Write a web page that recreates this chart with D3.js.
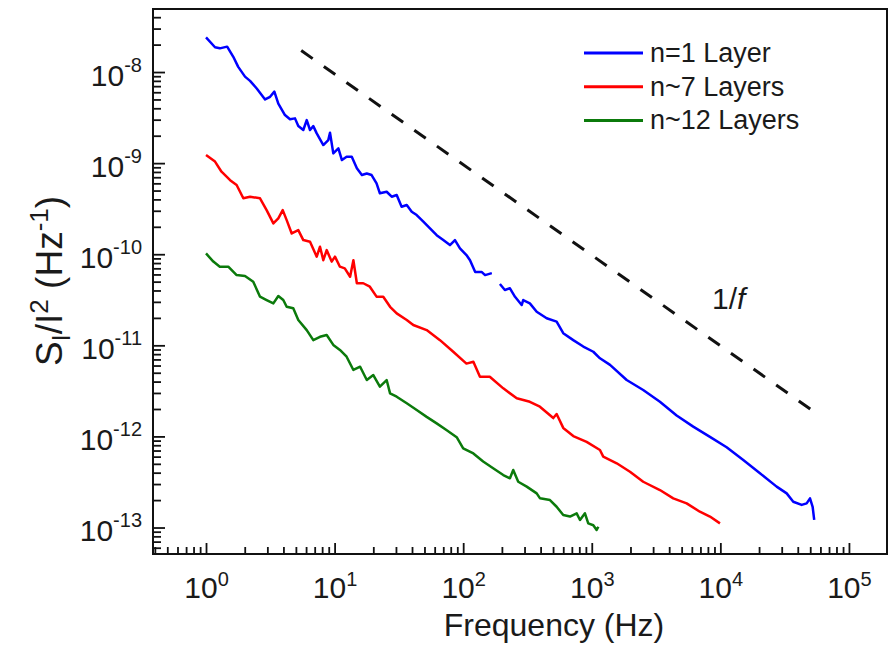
<!DOCTYPE html>
<html>
<head>
<meta charset="utf-8">
<script src="https://cdn.jsdelivr.net/npm/d3@7"></script>
<style>
  html, body { margin: 0; padding: 0; background: #fff; }
  svg { display: block; font-family: Arial, "Liberation Sans", sans-serif; }
</style>
</head>
<body>
<svg id="chart" width="890" height="648"></svg>
<script>
// noise spectra S_I/I^2 vs frequency as [f (Hz), S (1/Hz)]

// n=1 layer, first part (below ~170 Hz)
const n1Low = [
  [1.00,2.40e-8],[1.175,1.87e-8],[1.28,1.82e-8],[1.46,1.90e-8],[1.63,1.47e-8],[1.78,1.14e-8],
  [2.01,8.9e-9],[2.20,8.0e-9],[2.48,6.6e-9],[2.88,5.0e-9],[3.15,5.35e-9],[3.40,6.1e-9],
  [3.65,4.5e-9],[4.11,3.37e-9],[4.50,3.03e-9],[4.92,3.10e-9],[5.22,2.55e-9],[5.71,2.31e-9],
  [6.07,2.97e-9],[6.44,2.31e-9],[6.83,2.55e-9],[7.26,2.12e-9],[8.17,1.58e-9],[8.93,1.79e-9],
  [9.21,2.16e-9],[9.77,1.28e-9],[10.7,1.45e-9],[11.4,1.08e-9],[12.4,1.175e-9],[13.6,1.175e-9],
  [14.9,8.8e-10],[16.3,7.4e-10],[17.8,7.7e-10],[19.4,7.4e-10],[21.2,6.0e-10],[22.5,4.66e-10],
  [25.4,4.85e-10],[27.8,4.28e-10],[30.4,4.47e-10],[33.2,3.32e-10],[36.4,3.47e-10],[39.8,2.93e-10],
  [43.5,2.69e-10],[49.0,2.28e-10],[55.2,1.92e-10],[62.2,1.62e-10],[70.0,1.43e-10],[78.9,1.26e-10],
  [86.3,1.43e-10],[94.4,1.16e-10],[106,9.8e-11],[113,8.6e-11],[124,6.4e-11],[139,6.4e-11],
  [148,5.9e-11],[167,6.2e-11]
];
// n=1 layer, second part (after the gap)
const n1High = [
  [193,4.71e-11],[211,4.05e-11],[231,4.23e-11],[253,3.41e-11],[285,2.77e-11],[293,3.14e-11],
  [330,2.89e-11],[373,2.34e-11],[446,1.98e-11],[533,1.82e-11],[600,1.36e-11],[718,1.14e-11],
  [859,9.7e-12],[1028,8.5e-12],[1158,7.2e-12],[1387,6.1e-12],[1868,4.16e-12],[2512,3.23e-12],
  [3388,2.40e-12],[4571,1.70e-12],[6152,1.28e-12],[8299,9.9e-13],[11190,7.6e-13],[15070,5.5e-13],
  [20320,3.94e-13],[27400,2.81e-13],[32800,2.37e-13],[36900,1.92e-13],[42900,1.77e-13],
  [46900,1.84e-13],[49800,2.09e-13],[52200,1.69e-13],[53700,1.21e-13]
];
// n~7 layers
const n7 = [
  [1.00,1.23e-9],[1.175,1.04e-9],[1.32,8.05e-10],[1.54,6.5e-10],[1.73,5.75e-10],[1.95,4.11e-10],
  [2.20,4.28e-10],[2.63,4.11e-10],[2.96,3.05e-10],[3.34,2.18e-10],[3.65,2.48e-10],[3.95,3.05e-10],
  [4.24,2.37e-10],[4.64,1.69e-10],[5.22,1.84e-10],[5.71,1.43e-10],[6.44,1.37e-10],[7.26,9.4e-11],
  [7.70,1.21e-10],[8.17,8.6e-11],[8.68,1.11e-10],[9.49,8.3e-11],[10.07,9.4e-11],[11.0,7.3e-11],
  [12.0,7.0e-11],[13.2,5.66e-11],[14.0,8.6e-11],[14.9,4.8e-11],[16.7,4.8e-11],[18.8,4.4e-11],
  [21.2,3.42e-11],[23.9,3.42e-11],[27.0,2.65e-11],[30.4,2.24e-11],[36.4,1.90e-11],[40.9,1.67e-11],
  [52.0,1.47e-11],[66.0,1.14e-11],[83.7,8.5e-12],[106,6.3e-12],[120,6.6e-12],[135,4.52e-12],
  [161,4.52e-12],[205,3.37e-12],[261,2.62e-12],[330,2.40e-12],[395,2.12e-12],[502,1.59e-12],
  [533,1.76e-12],[600,1.24e-12],[718,1.01e-12],[912,8.7e-13],[1158,7.1e-13],[1228,6.0e-13],
  [1563,5.07e-13],[1982,4.1e-13],[2512,3.18e-13],[3388,2.58e-13],[4303,2.09e-13],[5470,1.84e-13],
  [6930,1.49e-13],[8300,1.32e-13],[9930,1.11e-13]
];
// n~12 layers
const n12 = [
  [1.00,1.02e-10],[1.14,8.3e-11],[1.28,7.3e-11],[1.49,7.3e-11],[1.73,5.9e-11],[2.01,5.77e-11],
  [2.33,4.99e-11],[2.63,3.42e-11],[2.96,3.14e-11],[3.34,2.89e-11],[3.65,3.48e-11],[3.99,3.14e-11],
  [4.24,2.65e-11],[4.77,2.55e-11],[5.22,1.90e-11],[6.07,1.47e-11],[6.83,1.14e-11],[7.70,1.24e-11],
  [8.68,1.30e-11],[9.77,1.01e-11],[11.0,8.9e-12],[12.4,7.5e-12],[14.0,5.36e-12],[15.8,5.82e-12],
  [17.8,4.16e-12],[20.0,4.72e-12],[22.5,3.52e-12],[25.4,4.16e-12],[27.0,2.97e-12],[30.4,2.73e-12],
  [36.4,2.31e-12],[43.5,1.95e-12],[52.0,1.64e-12],[62.2,1.39e-12],[74.5,1.17e-12],[89.0,9.8e-13],
  [100,7.4e-13],[120,6.5e-13],[143,5.3e-13],[171,4.47e-13],[205,3.77e-13],[231,3.47e-13],
  [245,4.28e-13],[268,3.18e-13],[312,2.81e-13],[373,2.37e-13],[396,2.09e-13],[473,2.00e-13],
  [533,1.69e-13],[600,1.37e-13],[677,1.32e-13],[763,1.43e-13],[810,1.21e-13],[885,1.43e-13],
  [939,1.11e-13],[1028,1.06e-13],[1091,9.4e-14],[1125,1.02e-13]
];
// 1/f guide line end points
const guide = [[5.5,1.72e-8],[5.0e4,2.0e-12]];

const legendNames = ["n=1 Layer", "n~7 Layers", "n~12 Layers"];
const seriesColors = ["#0000ff", "#ff0000", "#0b7a0b"];

const xDomain = [0.387, 1.977e5];
const yDomain = [5.12e-14, 4.92e-8];

const plot = {left: 153, top: 9, right: 887, bottom: 554};

const svg = d3.select('#chart');
const x = d3.scaleLog().domain(xDomain).range([plot.left, plot.right]);
const y = d3.scaleLog().domain(yDomain).range([plot.bottom, plot.top]);

const isMajor = v => Math.abs(Math.log10(v) - Math.round(Math.log10(v))) < 1e-9;
const xTicks = x.ticks();
const yTicks = y.ticks();

// minor ticks (inward)
svg.append('g')
  .attr('transform', `translate(0,${plot.bottom})`)
  .call(d3.axisBottom(x).tickValues(xTicks.filter(v => !isMajor(v))).tickSize(-7).tickSizeOuter(0).tickFormat(''))
  .call(g => g.select('.domain').remove());
svg.append('g')
  .attr('transform', `translate(${plot.left},0)`)
  .call(d3.axisLeft(y).tickValues(yTicks.filter(v => !isMajor(v))).tickSize(-8).tickSizeOuter(0).tickFormat(''))
  .call(g => g.select('.domain').remove());

// major ticks with 10^n labels
const xAxis = svg.append('g')
  .attr('transform', `translate(0,${plot.bottom})`)
  .call(d3.axisBottom(x).tickValues(xTicks.filter(isMajor)).tickSize(-11).tickSizeOuter(0).tickPadding(23).tickFormat(''))
  .call(g => g.select('.domain').remove());
const yAxis = svg.append('g')
  .attr('transform', `translate(${plot.left},0)`)
  .call(d3.axisLeft(y).tickValues(yTicks.filter(isMajor)).tickSize(-12).tickSizeOuter(0).tickPadding(11).tickFormat(''))
  .call(g => g.select('.domain').remove());

svg.selectAll('.tick line').attr('stroke', '#111').attr('stroke-width', 1.8);

function powerLabel(sel, shift) {
  sel.each(function(d) {
    const t = d3.select(this);
    t.text(null).attr('font-size', 30).attr('fill', '#1a1a1a').attr('font-family', 'Arial, "Liberation Sans", sans-serif');
    t.append('tspan').text('10');
    t.append('tspan').attr('font-size', 20).attr('dy', shift).text(Math.round(Math.log10(d)));
  });
}
xAxis.selectAll('.tick text').call(powerLabel, -12);
yAxis.selectAll('.tick text').attr('dy', 13).call(powerLabel, -14);

// frame
svg.append('rect')
  .attr('x', plot.left).attr('y', plot.top)
  .attr('width', plot.right - plot.left).attr('height', plot.bottom - plot.top)
  .attr('fill', 'none').attr('stroke', '#111').attr('stroke-width', 2);

// curves
const line = d3.line().x(d => x(d[0])).y(d => y(d[1]));
const curves = [
  {data: n1Low, color: seriesColors[0]},
  {data: n1High, color: seriesColors[0]},
  {data: n7, color: seriesColors[1]},
  {data: n12, color: seriesColors[2]}
];
svg.append('g')
  .selectAll('path')
  .data(curves)
  .join('path')
    .attr('d', d => line(d.data))
    .attr('fill', 'none')
    .attr('stroke', d => d.color)
    .attr('stroke-width', 2.5)
    .attr('stroke-linejoin', 'round');

// 1/f guide, dash period chosen so the last dash is whole
const guidePath = svg.append('path')
  .attr('d', line(guide))
  .attr('fill', 'none')
  .attr('stroke', '#111')
  .attr('stroke-width', 3);
const guideLen = guidePath.node().getTotalLength();
const dash = 14, nDash = Math.round((guideLen - dash) / 27.5);
guidePath.attr('stroke-dasharray', `${dash},${(guideLen - dash) / nDash - dash}`);

svg.append('text')
  .attr('x', 712).attr('y', 309)
  .attr('font-size', 30).attr('fill', '#1a1a1a')
  .call(t => {
    t.append('tspan').text('1/');
    t.append('tspan').attr('font-style', 'italic').text('f');
  });

// legend
const legend = svg.append('g').attr('transform', 'translate(584,53)');
const item = legend.selectAll('g')
  .data(legendNames)
  .join('g')
    .attr('transform', (d, i) => `translate(0,${i * 33.7})`);
item.append('line')
  .attr('x1', 0).attr('x2', 59)
  .attr('stroke', (d, i) => seriesColors[i])
  .attr('stroke-width', 3);
item.append('text')
  .attr('x', 66).attr('y', 9)
  .attr('font-size', 27).attr('fill', '#1a1a1a')
  .text(d => d);

// axis titles
svg.append('text')
  .attr('x', 554).attr('y', 636)
  .attr('text-anchor', 'middle')
  .attr('font-size', 32).attr('fill', '#1a1a1a')
  .text('Frequency (Hz)');

const yTitle = svg.append('text')
  .attr('transform', 'translate(62,281) rotate(-90)')
  .attr('text-anchor', 'middle')
  .attr('font-size', 37).attr('fill', '#1a1a1a');
yTitle.append('tspan').text('S');
yTitle.append('tspan').attr('font-size', 26).attr('dy', 8).text('I');
yTitle.append('tspan').attr('dy', -8).text('/I');
yTitle.append('tspan').attr('font-size', 26).attr('dy', -14).text('2');
yTitle.append('tspan').attr('dy', 14).text(' (Hz');
yTitle.append('tspan').attr('font-size', 26).attr('dy', -14).text('-1');
yTitle.append('tspan').attr('dy', 14).text(')');
</script>
</body>
</html>
